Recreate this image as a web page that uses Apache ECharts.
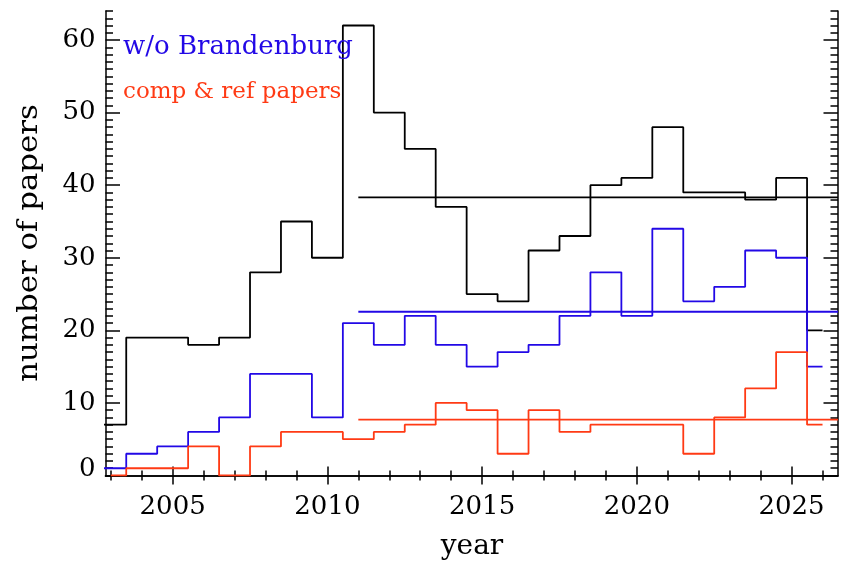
<!DOCTYPE html>
<html><head><meta charset="utf-8">
<script src="https://cdn.jsdelivr.net/npm/echarts@6/dist/echarts.min.js"></script>
<style>html,body{margin:0;padding:0;background:#fff}#c{width:848px;height:563px}</style>
</head><body><div id="c"></div>
<script>
// ---- data ----
const years = [2003,2004,2005,2006,2007,2008,2009,2010,2011,2012,2013,2014,2015,2016,2017,2018,2019,2020,2021,2022,2023,2024,2025,2026];
const allPapers = [7,19,19,18,19,28,35,30,62,50,45,37,25,24,31,33,40,41,48,39,39,38,41,20];
const withoutBrandenburg = [1,3,4,6,8,14,14,8,21,18,22,18,15,17,18,22,28,22,34,24,26,31,30,15];
const compRefPapers = [0,1,1,4,0,4,6,6,5,6,7,10,9,3,9,6,7,7,7,3,8,12,17,7];
const meanStartYear = 2011;
const xTickLabels = [2005,2010,2015,2020,2025];
const yTickLabels = [0,10,20,30,40,50,60];
const seriesNames = ['all papers','w/o Brandenburg','comp & ref papers'];

// ---- layout / style ----
const XMIN = 2002.83, XMAX = 2026.5, YMIN = 0, YMAX = 64;
const BLACK = '#000000', BLUE = '#2208e6', RED = '#ff3a14';
const FONT = '"DejaVu Serif", serif';
const xMinor = []; for (let v = 2003; v <= 2026; v++) xMinor.push(v);
const yMinor = []; for (let v = 0; v <= 64; v++) yMinor.push(v);

function stepPoints(ys, vals, fullFirst) {
  const pts = [];
  const n = ys.length;
  for (let i = 0; i < n; i++) {
    const a = (i === 0 && !fullFirst) ? ys[i] : ys[i] - 0.5;
    const b = (i === n - 1) ? ys[i] : ys[i] + 0.5;
    pts.push([a, vals[i]], [b, vals[i]]);
  }
  return pts;
}
function meanFrom(ys, vals, start) {
  let s = 0, c = 0;
  ys.forEach((y, i) => { if (y >= start) { s += vals[i]; c++; } });
  return s / c;
}

const chart = echarts.init(document.getElementById('c'), null, {renderer: 'canvas'});
const axLine = {show: true, lineStyle: {color: BLACK, width: 1.5}};
const tickStyle = {color: BLACK, width: 1.5};
function xAx(pos, major, withLabel, showLine) {
  return {
    type: 'value', position: pos, min: XMIN, max: XMAX, gridIndex: 0,
    axisLine: showLine ? axLine : {show: false},
    axisTick: {show: true, inside: true, length: major ? 9 : 5, customValues: major ? xTickLabels : xMinor, lineStyle: tickStyle},
    axisLabel: withLabel ? {show: true, customValues: xTickLabels, fontSize: 26, fontFamily: FONT, color: BLACK, margin: 19, formatter: v => String(v)} : {show: false},
    splitLine: {show: false}, minorTick: {show: false}
  };
}
function yAx(pos, major, withLabel, showLine) {
  return {
    type: 'value', position: pos, min: YMIN, max: YMAX, gridIndex: 0,
    axisLine: showLine ? axLine : {show: false},
    axisTick: {show: true, inside: true, length: major ? 14.5 : 7.5, customValues: major ? yTickLabels : yMinor, lineStyle: tickStyle},
    axisLabel: withLabel ? {show: true, customValues: yTickLabels, fontSize: 26, fontFamily: FONT, color: BLACK, margin: 10,
      formatter: v => v === 0 ? '{up|0}' : String(v), rich: {up: {fontSize: 26, fontFamily: FONT, color: BLACK, padding: [0,0,13,0]}}} : {show: false},
    splitLine: {show: false}, minorTick: {show: false}
  };
}

function stepSeries(name, vals, color, fullFirst) {
  return {name, type: 'line', xAxisIndex: 0, yAxisIndex: 0, data: stepPoints(years, vals, fullFirst),
    showSymbol: false, symbol: 'none', clip: true, lineStyle: {color, width: 1.8}, itemStyle: {color}, z: 3};
}
function meanSeries(name, vals, color) {
  const m = meanFrom(years, vals, meanStartYear);
  return {name: name + ' mean', type: 'line', xAxisIndex: 0, yAxisIndex: 0, data: [[meanStartYear, m], [XMAX, m]],
    showSymbol: false, symbol: 'none', clip: true, lineStyle: {color, width: 1.8}, itemStyle: {color}, z: 3};
}

chart.setOption({
  animation: false,
  backgroundColor: '#ffffff',
  grid: {left: 105.5, right: 10, top: 11, bottom: 87.5, containLabel: false, outerBoundsMode: 'none'},
  xAxis: [xAx('bottom', true, true, true), xAx('bottom', false, false, false), xAx('top', true, false, true), xAx('top', false, false, false)],
  yAxis: [yAx('left', true, true, true), yAx('left', false, false, false), yAx('right', true, false, true), yAx('right', false, false, false)],
  series: [
    stepSeries(seriesNames[0], allPapers, BLACK, true),
    stepSeries(seriesNames[1], withoutBrandenburg, BLUE, true),
    stepSeries(seriesNames[2], compRefPapers, RED, false),
    meanSeries(seriesNames[0], allPapers, BLACK),
    meanSeries(seriesNames[1], withoutBrandenburg, BLUE),
    meanSeries(seriesNames[2], compRefPapers, RED)
  ],
  graphic: [
    {type: 'text', x: 123, y: 47, z: 10, style: {text: 'w/o Brandenburg', fill: BLUE, font: '26px ' + FONT, align: 'left', verticalAlign: 'middle'}},
    {type: 'text', x: 123, y: 92, z: 10, style: {text: 'comp & ref papers', fill: RED, font: '23px ' + FONT, align: 'left', verticalAlign: 'middle'}},
    {type: 'text', x: 472, y: 547, z: 10, style: {text: 'year', fill: BLACK, font: '28px ' + FONT, align: 'center', verticalAlign: 'middle'}},
    {type: 'text', x: 29.5, y: 243, rotation: Math.PI / 2, scaleX: 1.1, z: 10, style: {text: 'number of papers', fill: BLACK, font: '28px ' + FONT, align: 'center', verticalAlign: 'middle'}}
  ]
});
</script></body></html>
